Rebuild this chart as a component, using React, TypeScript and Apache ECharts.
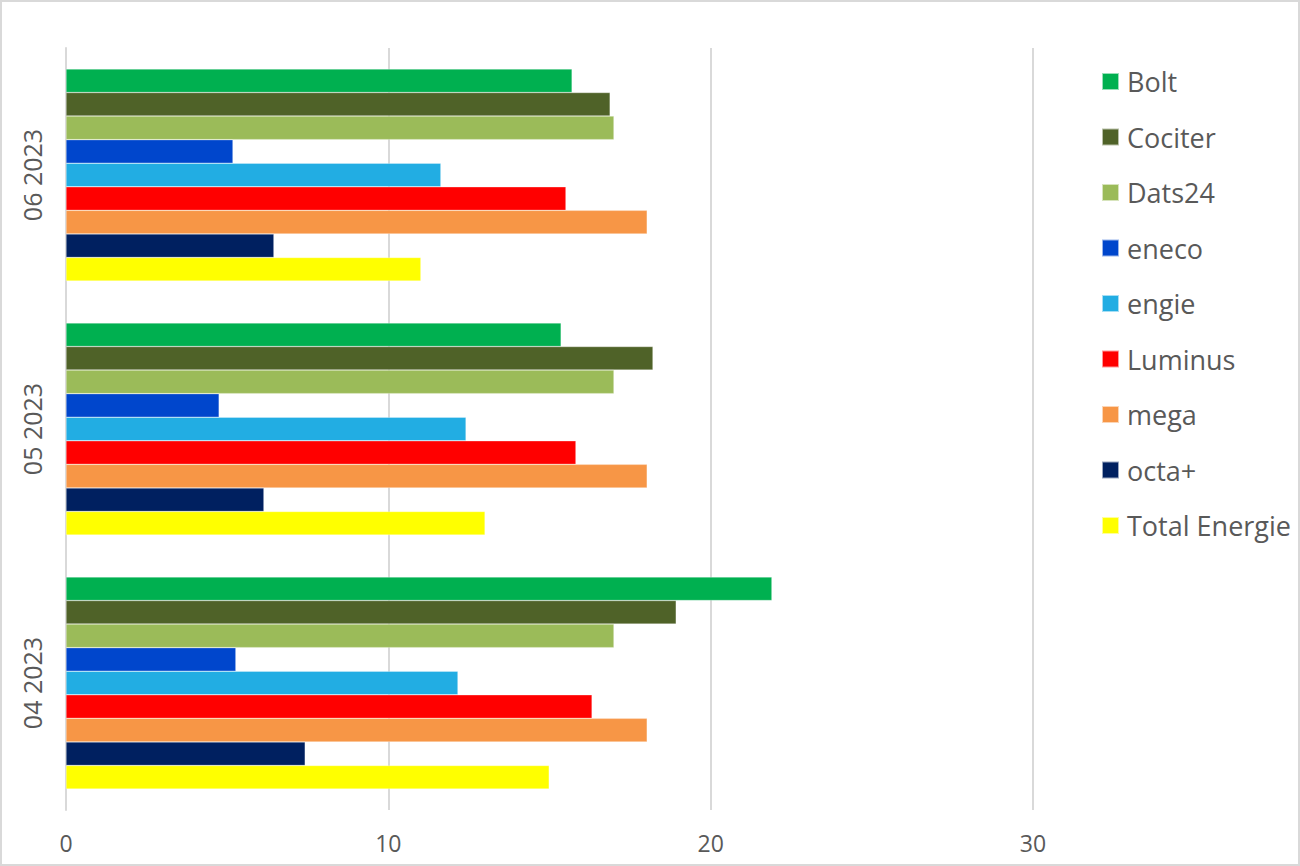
import React, { useEffect, useRef } from "react";
import * as echarts from "echarts";

const categories = ["04 2023", "05 2023", "06 2023"];
const seriesNames = ["Bolt", "Cociter", "Dats24", "eneco", "engie", "Luminus", "mega", "octa+", "Total Energie"];
const seriesColors = ["#00B050", "#4F6228", "#9BBB59", "#0046CC", "#22ADE3", "#FF0000", "#F79646", "#002060", "#FFFF00"];
const bolt = [21.9, 15.36, 15.7];
const cociter = [18.93, 18.21, 16.88];
const dats24 = [17.0, 17.0, 17.0];
const eneco = [5.27, 4.75, 5.18];
const engie = [12.16, 12.41, 11.63];
const luminus = [16.32, 15.82, 15.51];
const mega = [18.03, 18.03, 18.03];
const octa = [7.42, 6.14, 6.45];
const totalEnergie = [14.99, 13.0, 11.01];
const xTicks = [0, 10, 20, 30];

const seriesValues = [bolt, cociter, dats24, eneco, engie, luminus, mega, octa, totalEnergie];

export default function App() {
  const ref = useRef<HTMLDivElement>(null);
  useEffect(() => {
    const chart = echarts.init(ref.current!, null, { renderer: "svg" });
    const font = "'Open Sans', sans-serif";
    chart.setOption({
      animation: false,
      backgroundColor: "transparent",
      textStyle: { fontFamily: font },
      legend: {
        orient: "vertical",
        left: 1096,
        top: 63,
        icon: "rect",
        itemWidth: 17,
        itemHeight: 17,
        itemGap: 28.5,
        data: seriesNames,
        textStyle: { fontSize: 27, color: "#595959", fontFamily: font, padding: [0, 0, 0, 3] },
      },
      grid: { left: 66, right: 267, top: 48, bottom: 56, containLabel: false },
      xAxis: {
        type: "value",
        min: xTicks[0],
        max: xTicks[xTicks.length - 1],
        interval: 10,
        axisLine: { show: false },
        axisTick: { show: false },
        splitLine: { show: true, lineStyle: { color: "#D9D9D9", width: 2 } },
        axisLabel: { fontSize: 23, color: "#595959", margin: 21, fontFamily: font },
      },
      yAxis: {
        type: "category",
        data: categories,
        axisLine: { show: true, lineStyle: { color: "#D9D9D9", width: 2 } },
        axisTick: { show: false },
        axisLabel: { rotate: 90, fontSize: 25, color: "#595959", margin: 22, fontFamily: font },
      },
      series: seriesNames.map((name, i) => ({
        name,
        type: "bar",
        data: seriesValues[i],
        barGap: "0%",
        barCategoryGap: "16.5%",
        itemStyle: { color: seriesColors[i], borderColor: "rgba(255,255,255,0.6)", borderWidth: 0.5 },
      })),
    });
    return () => chart.dispose();
  }, []);
  return (
    <div
      style={{
        position: "absolute",
        left: 0,
        top: 0,
        width: 1300,
        height: 866,
        boxSizing: "border-box",
        border: "2px solid #D9D9D9",
        background: "#fff",
      }}
    >
      <div ref={ref} style={{ position: "absolute", left: -2, top: -2, width: 1300, height: 866 }} />
    </div>
  );
}
